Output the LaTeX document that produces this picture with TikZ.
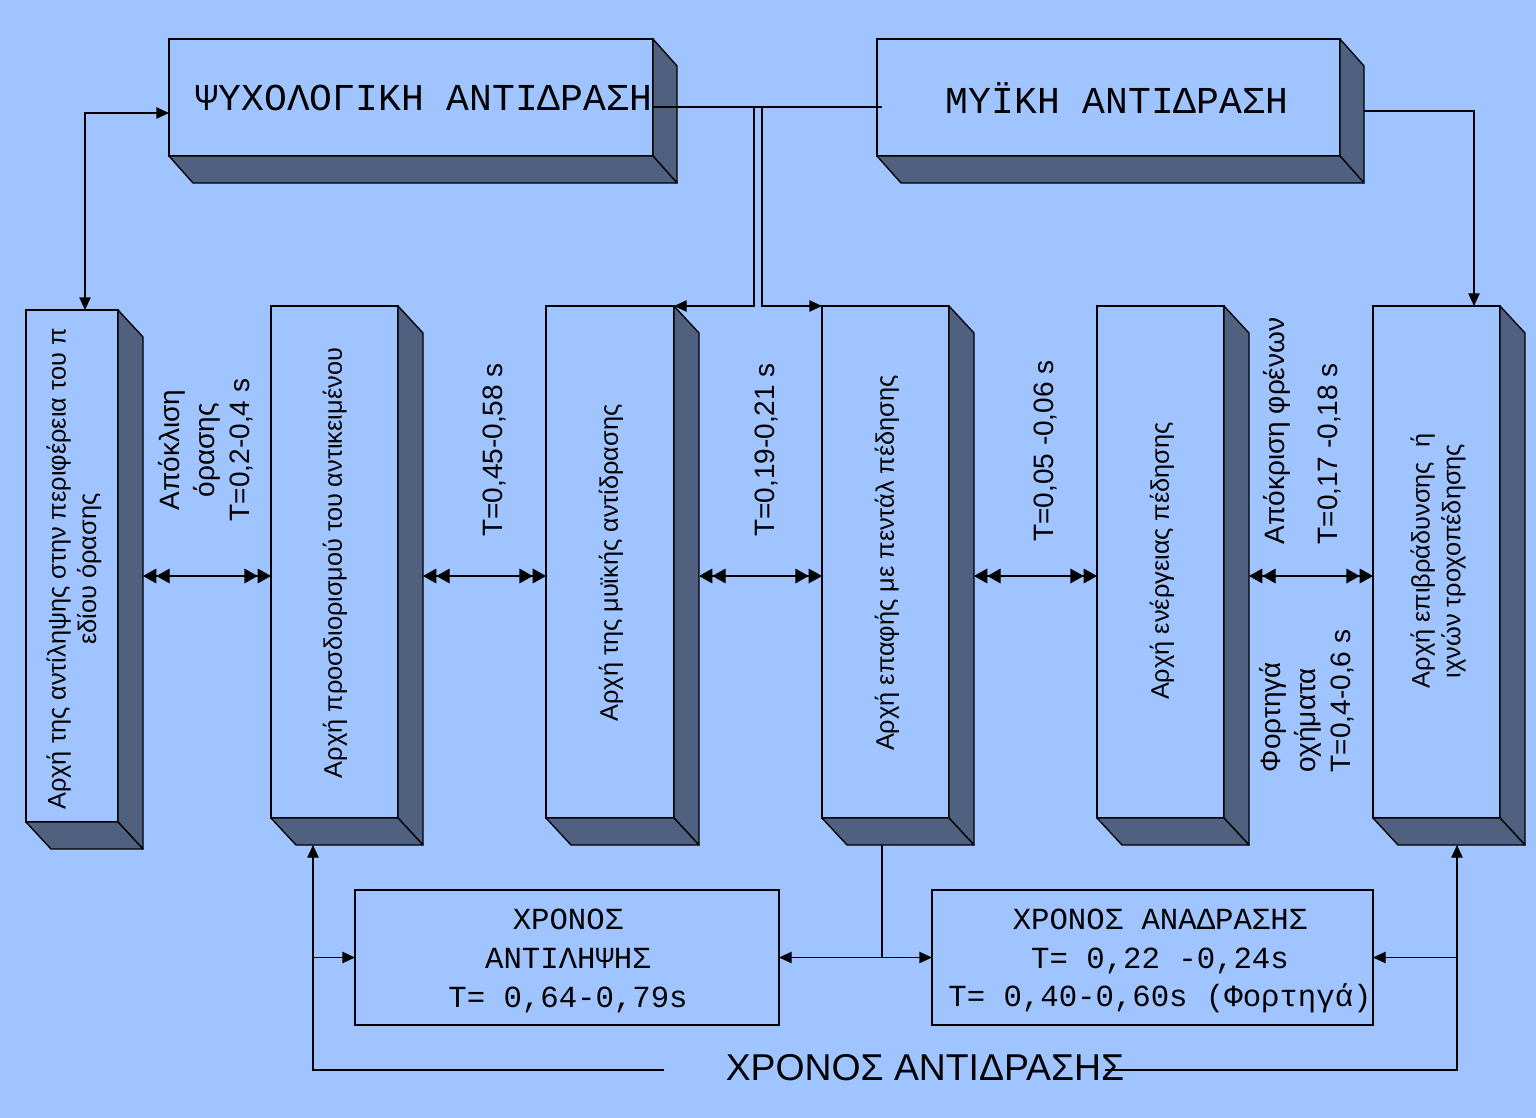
\documentclass[tikz,border=0pt]{standalone}
\usepackage{fontspec}
\setmainfont{Liberation Sans}
\newfontfamily\monofont{Liberation Mono}
\usetikzlibrary{arrows.meta,positioning,calc,fit}

\definecolor{bgblue}{RGB}{160,196,255}
\definecolor{sideblue}{RGB}{80,97,128}

% side and bottom faces of a raised box
\newcommand\slabfaces[3]{%
  \filldraw[slabside] (#1.north east) -- ($(#1.north east)+(#2,#3)$) -- ($(#1.south east)+(#2,#3)$) -- (#1.south east) -- cycle;
  \filldraw[slabside] (#1.south west) -- ($(#1.south west)+(#2,#3)$) -- ($(#1.south east)+(#2,#3)$) -- (#1.south east) -- cycle;}

\begin{document}
\begin{tikzpicture}[
    x=0.75pt, y=-0.75pt, line width=1pt,
    >={Triangle[length=9.5pt,width=8.5pt]},
    front/.style={draw, fill=bgblue, inner sep=0pt, outer sep=0pt},
    slabside/.style={draw, fill=sideblue, line join=round},
    boxtext/.style={rotate=90, align=center, font=\fontsize{19}{23}\selectfont},
    gaptext/.style={rotate=90, align=center, font=\fontsize{21}{26.25}\selectfont},
    headtext/.style={font=\monofont\fontsize{28.5}{34}\selectfont},
    timetext/.style={align=center, font=\monofont\fontsize{23}{29}\selectfont},
    dbl/.style={>={Triangle[length=10pt,width=11pt]}, <<->>}
  ]
  \useasboundingbox (0,0) rectangle (1536,1118);
  \fill[bgblue] (0,0) rectangle (1536,1118);

  % top boxes
  \node[front, fit={(169,39) (653,156)}] (psy) {};
  \slabfaces{psy}{24}{27}
  \node[headtext] (psytext) at (424,98) {ΨΥΧΟΛΟΓΙΚΗ ΑΝΤΙΔΡΑΣΗ};
  \node[front, fit={(877,39) (1340,156)}] (myk) {};
  \slabfaces{myk}{24}{27}
  \node[headtext] (myktext) at (1117,98) {ΜΥΪΚΗ ΑΝΤΙΔΡΑΣΗ};

  % vertical boxes
  \node[front, fit={(26,310) (118,822)}] (b1) {};
  \node[front, fit={(271,306) (398,818)}] (b2) {};
  \node[front, fit={(546,306) (674,818)}] (b3) {};
  \node[front, fit={(822,306) (949,818)}] (b4) {};
  \node[front, fit={(1097,306) (1224,818)}] (b5) {};
  \node[front, fit={(1373,306) (1500,818)}] (b6) {};
  \foreach \n in {b1,b2,b3,b4,b5,b6}
    {\slabfaces{\n}{25}{27}}

  \node[boxtext] (t1) at (74,569) {Αρχή της αντίληψης στην περιφέρεια του π\\εδίου όρασης};
  \node[boxtext] (t2) at (335,563) {Αρχή προσδιορισμού του αντικειμένου};
  \node[boxtext] (t3) at (611,563) {Αρχή της μυϊκής αντίδρασης};
  \node[boxtext] (t4) at (887,563) {Αρχή επαφής με πεντάλ πέδησης};
  \node[boxtext] (t5) at (1162,561) {Αρχή ενέργειας πέδησης};
  \node[boxtext] (t6) at (1438,561) {Αρχή επιβράδυνσης\ \ ή\\ιχνών τροχοπέδησης};

  % time labels
  \node[gaptext] (g1) at (206,450) {Απόκλιση\\όρασης\\T=0,2-0,4 s};
  \node[gaptext] (g2) at (495,450) {T=0,45-0,58 s};
  \node[gaptext] (g3) at (767,450) {T=0,19-0,21 s};
  \node[gaptext] (g4) at (1046,451) {T=0,05 -0,06 s};
  \node[gaptext, align=left, font=\fontsize{21}{40}\selectfont] (g5a) at (1302.5,431) {Απόκριση φρένων\\T=0,17 -0,18 s};
  \node[gaptext, align=left] (g5b) at (1307,701) {Φορτηγά\\οχήματα\\T=0,4-0,6 s};

  % bottom boxes
  \node[front, fit={(355,890) (779,1025)}] (ant) {};
  \node[timetext] (anttext) at (568,961) {ΧΡΟΝΟΣ\\ΑΝΤΙΛΗΨΗΣ\\T= 0,64-0,79s};
  \node[front, fit={(932,890) (1373,1025)}] (anad) {};
  \node[timetext] (anadtext) at (1160,961) {ΧΡΟΝΟΣ ΑΝΑΔΡΑΣΗΣ\\T= 0,22 -0,24s\\T= 0,40-0,60s (Φορτηγά)};

  % connectors
  \coordinate (jl) at (754,107);
  \coordinate (jr) at (762,107);
  \coordinate (mid) at (0,576);
  \coordinate (lcorner) at (313,1070);
  \coordinate (rcorner) at (1457,1070);
  \coordinate (lend) at (664,1070);
  \coordinate (rend) at (1105,1070);

  \draw[<->] ($(b1.north)+(13,0)$) |- ($(psy.west)+(0,15.5)$);
  \draw ($(psy.east)+(0,9.5)$) -- ($(myk.west)+(5,9.5)$);
  \draw[->] (jl) |- (b3.north east);
  \draw[->] (jr) |- (b4.north west);
  \draw[->] ($(myk.east)+(24,13.5)$) -| ($(b6.north)+(37.5,0)$);

  \foreach \a/\b in {b1/b2,b2/b3,b3/b4,b4/b5,b5/b6}
    \draw[dbl] ($(\a.east |- mid)+(25,0)$) -- (\b.west |- mid);

  \draw ($(b4.south)+(-3.5,27)$) -- ($(b4.south |- ant.east)+(-3.5,0)$);
  \draw[<->] (ant.east) -- (anad.west);
  \draw[->] (lend) -| ($(b2.south)+(-21.5,27)$);
  \draw[->] (lcorner |- ant.west) -- (ant.west);
  \draw[->] (rend) -| ($(b6.south)+(20.5,27)$);
  \draw[->] (rcorner |- anad.east) -- (anad.east);

  \node[font=\fontsize{28}{34}\selectfont] (total) at (925,1068) {ΧΡΟΝΟΣ ΑΝΤΙΔΡΑΣΗΣ};
\end{tikzpicture}
\end{document}
